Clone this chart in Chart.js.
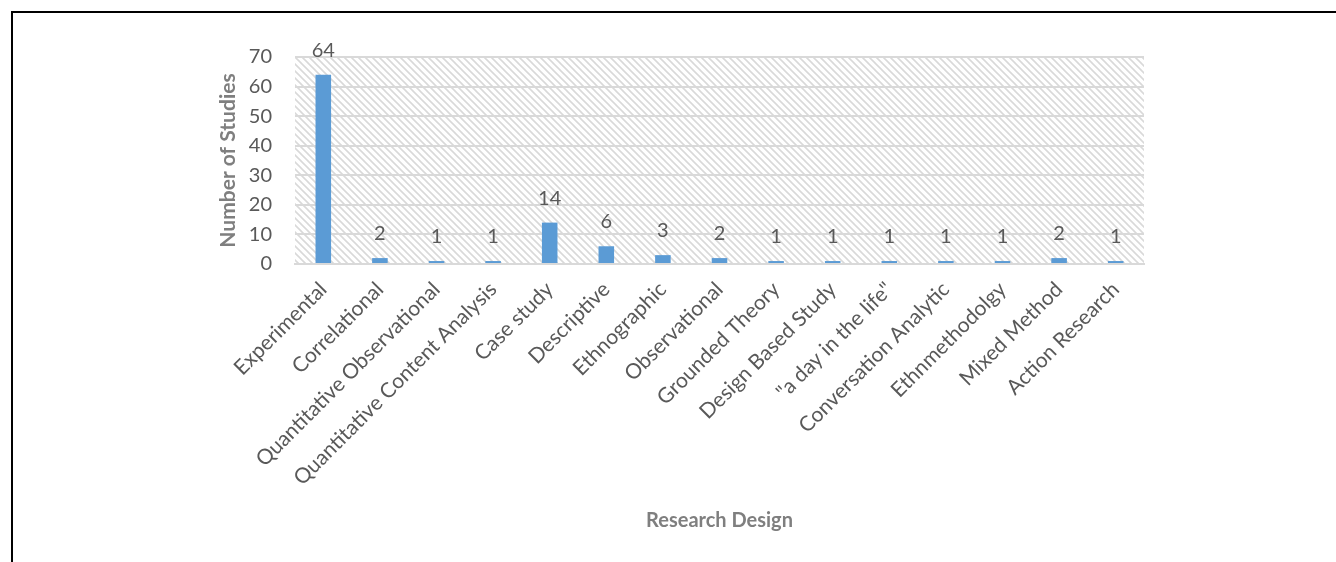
<!DOCTYPE html>
<html>
<head>
<meta charset="utf-8">
<script src="https://cdn.jsdelivr.net/npm/chart.js@4"></script>
<style>
    html, body { margin: 0; padding: 0; background: #fff; }
    #wrap { position: relative; width: 1336px; height: 562px; }
    #frame { position: absolute; left: 11px; top: 11px; right: -10px; bottom: -10px; border-left: 2px solid #000; border-top: 2px solid #000; pointer-events: none; }
</style>
</head>
<body>
<div id="wrap">
    <canvas id="chart" width="1336" height="562"></canvas>
    <div id="frame"></div>
</div>
<script>
const categories = ['Experimental', 'Correlational', 'Quantitative Observational', 'Quantitative Content Analysis',
    'Case study', 'Descriptive', 'Ethnographic', 'Observational', 'Grounded Theory', 'Design Based Study',
    '"a day in the life"', 'Conversation Analytic', 'Ethnmethodolgy', 'Mixed Method', 'Action Research'];
const studies = [64, 2, 1, 1, 14, 6, 3, 2, 1, 1, 1, 1, 1, 2, 1];
const yTicks = [0, 10, 20, 30, 40, 50, 60, 70];

const FONT = 'Lato, "Open Sans", sans-serif';
const LABEL_COLOR = '#595959';
const TITLE_COLOR = '#7f7f7f';

function makeHatch() {
    const size = 7;
    const c = document.createElement('canvas');
    c.width = size;
    c.height = size;
    const g = c.getContext('2d');
    g.strokeStyle = '#d9d9d9';
    g.lineWidth = 1.6;
    g.beginPath();
    g.moveTo(-1, -1); g.lineTo(size + 1, size + 1);
    g.moveTo(-1, size - 1); g.lineTo(1, size + 1);
    g.moveTo(size - 1, -1); g.lineTo(size + 1, 1);
    g.stroke();
    return g.createPattern(c, 'repeat');
}

const hatchPlugin = {
    id: 'hatch',
    beforeDatasetsDraw(chart) {
        const { ctx, chartArea } = chart;
        ctx.save();
        ctx.fillStyle = makeHatch();
        ctx.fillRect(chartArea.left, chartArea.top, chartArea.right - chartArea.left, chartArea.bottom - chartArea.top);
        ctx.restore();
    }
};

const valueLabels = {
    id: 'valueLabels',
    afterDatasetsDraw(chart) {
        const { ctx } = chart;
        const meta = chart.getDatasetMeta(0);
        ctx.save();
        ctx.font = '20px ' + FONT;
        ctx.fillStyle = LABEL_COLOR;
        ctx.textAlign = 'center';
        ctx.textBaseline = 'alphabetic';
        meta.data.forEach((bar, i) => {
            ctx.fillText(String(studies[i]), bar.x, bar.y - 18);
        });
        ctx.restore();
    }
};

new Chart(document.getElementById('chart'), {
    type: 'bar',
    data: {
        labels: categories,
        datasets: [{
            label: 'Number of Studies',
            data: studies,
            backgroundColor: '#5b9bd5',
            borderWidth: 0,
            categoryPercentage: 1,
            barPercentage: 0.275
        }]
    },
    options: {
        responsive: false,
        animation: false,
        layout: { padding: { left: 0, top: 57, right: 192, bottom: 0 } },
        plugins: {
            legend: { display: false },
            tooltip: { enabled: false }
        },
        scales: {
            x: {
                grid: { display: false, drawTicks: false },
                border: { display: true, color: '#d9d9d9', width: 2 },
                ticks: {
                    color: LABEL_COLOR,
                    font: { family: FONT, size: 21 },
                    minRotation: 45,
                    maxRotation: 45,
                    autoSkip: false,
                    padding: 13
                },
                title: {
                    display: true,
                    text: 'Research Design',
                    color: TITLE_COLOR,
                    font: { family: FONT, size: 20, weight: 'bold' },
                    padding: { top: 0, bottom: 29 }
                },
                afterFit(scale) {
                    scale.height = 562 - 264;
                    scale.paddingLeft = 0;
                    scale.paddingRight = 0;
                }
            },
            y: {
                min: 0,
                max: 70,
                afterBuildTicks(scale) {
                    scale.ticks = yTicks.map(v => ({ value: v }));
                },
                grid: { color: '#d9d9d9', lineWidth: 2, drawTicks: false },
                border: { display: false },
                ticks: {
                    color: LABEL_COLOR,
                    font: { family: FONT, size: 20 },
                    padding: 23
                },
                title: {
                    display: true,
                    text: 'Number of Studies',
                    color: TITLE_COLOR,
                    font: { family: FONT, size: 21, weight: 'bold' },
                    padding: { top: 216, bottom: 0 }
                },
                afterFit(scale) {
                    scale.width = 295;
                }
            }
        }
    },
    plugins: [hatchPlugin, valueLabels]
});
</script>
</body>
</html>
